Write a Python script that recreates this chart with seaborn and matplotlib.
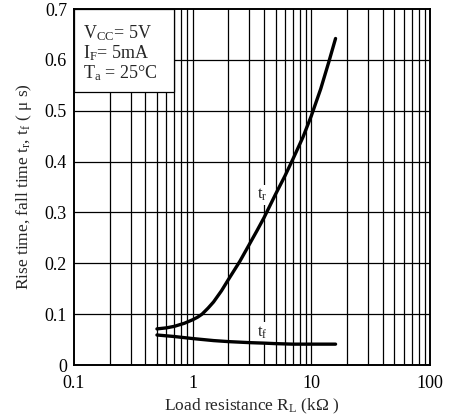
import numpy as np
import pandas as pd
import matplotlib
matplotlib.use("Agg")
import matplotlib.pyplot as plt
import seaborn as sns
from matplotlib.patches import Rectangle

# Data
rl_tr = [0.5, 0.6, 0.7, 0.85, 1.0, 1.1, 1.2, 1.35, 1.5, 1.75, 2.0, 2.5, 3.0, 3.5, 4.0, 5.0, 6.0, 7.0, 8.5, 10.0, 12.0, 14.0, 16.0]
tr = [0.071, 0.073, 0.076, 0.082, 0.089, 0.094, 0.100, 0.112, 0.124, 0.146, 0.168, 0.204, 0.237, 0.265, 0.290, 0.336, 0.372, 0.405, 0.448, 0.490, 0.543, 0.595, 0.642]
rl_tf = [0.5, 0.7, 1.0, 1.5, 2.0, 3.0, 4.0, 5.0, 7.0, 10.0, 16.0]
tf = [0.059, 0.056, 0.052, 0.048, 0.046, 0.044, 0.043, 0.042, 0.041, 0.041, 0.041]
x_ticks = [0.1, 1, 10, 100]
x_ticklabels = ["0.1", "1", "10", "100"]
y_ticks = [0, 0.1, 0.2, 0.3, 0.4, 0.5, 0.6, 0.7]
y_ticklabels = ["0", "0.1", "0.2", "0.3", "0.4", "0.5", "0.6", "0.7"]
cond_lines = [r"V$_{\mathrm{CC}}$= 5V", r"I$_{\mathrm{F}}$= 5mA", r"T$_{\mathrm{a}}$ = 25°C"]

sns.set_style("white")
plt.rcParams["font.family"] = ["Liberation Serif", "DejaVu Serif"]
plt.rcParams["mathtext.fontset"] = "custom"
plt.rcParams["mathtext.rm"] = "Liberation Serif"
plt.rcParams["mathtext.it"] = "Liberation Serif:italic"
plt.rcParams["mathtext.default"] = "rm"

fig = plt.figure(figsize=(4.52, 4.19), dpi=100)
ax = fig.add_axes([74/452, 1-365/419, (430-74)/452, (365-9)/419])

df_r = pd.DataFrame({"RL": rl_tr, "t": tr})
df_f = pd.DataFrame({"RL": rl_tf, "t": tf})
sns.lineplot(data=df_r, x="RL", y="t", ax=ax, color="black", lw=2.4, zorder=5)
sns.lineplot(data=df_f, x="RL", y="t", ax=ax, color="black", lw=2.4, zorder=5)

ax.set_xscale("log")
ax.set_xlim(0.1, 100)
ax.set_ylim(0, 0.7)

# grid lines
minor = [m * d for d in [0.1, 1, 10] for m in range(2, 10)]
for v in minor + [1, 10]:
    ax.axvline(v, color="black", lw=0.9, zorder=1)
for v in y_ticks[1:-1]:
    ax.axhline(v, color="black", lw=0.9, zorder=1)

ax.add_patch(Rectangle((0.1, 0.537), 0.6, 0.163, facecolor="white",
                       edgecolor="black", lw=0.9, zorder=2))
for i, s in enumerate(cond_lines):
    ax.text(0.118, 0.652 - i * 0.0395, s, fontsize=13, va="center", ha="left", zorder=3)

ax.text(3.85, 0.334, r"t$_{\mathrm{r}}$", fontsize=12, ha="center", va="center", zorder=4,
        bbox=dict(facecolor="white", edgecolor="none", pad=1.5))
ax.text(3.9, 0.064, r"t$_{\mathrm{f}}$", fontsize=12, ha="center", va="center", zorder=4,
        bbox=dict(facecolor="white", edgecolor="none", pad=1.5))

ax.set_xticks(x_ticks)
ax.set_xticklabels(x_ticklabels)
ax.set_yticks(y_ticks)
ax.set_yticklabels(y_ticklabels)
ax.minorticks_off()
ax.tick_params(length=0, labelsize=13, colors="black")
ax.tick_params(axis="x", pad=7)
ax.tick_params(axis="y", pad=5)
for sp in ax.spines.values():
    sp.set_color("black")
    sp.set_linewidth(1.4)
    sp.set_zorder(6)

ax.set_xlabel(r"Load resistance R$_{\mathrm{L}}$ (kΩ )", fontsize=12.5, labelpad=4)
ax.set_ylabel(r"Rise time, fall time t$_{\mathrm{r}}$, t$_{\mathrm{f}}$ ( μ s)", fontsize=12.5, labelpad=8)

fig.savefig("out.png", dpi=100)
